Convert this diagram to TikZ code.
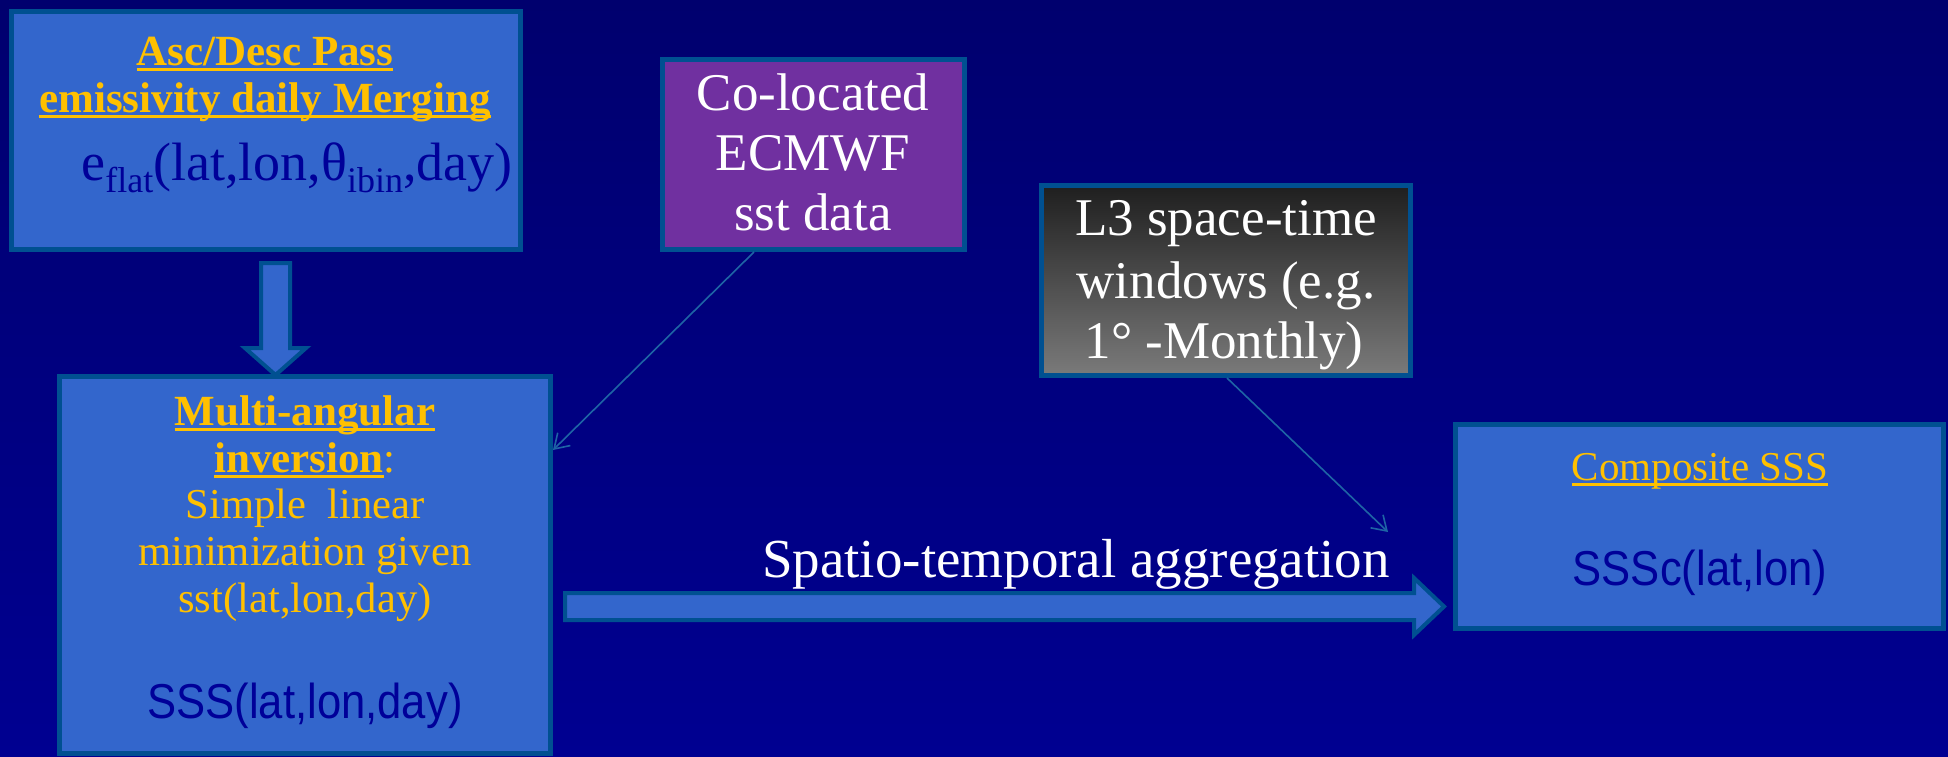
\documentclass[tikz,border=0pt]{standalone}
\usepackage{fontspec}
\setmainfont{Liberation Serif}
\newfontfamily\narrowsans[FakeStretch=0.89]{Liberation Sans}
\usetikzlibrary{arrows.meta}
\definecolor{navytop}{RGB}{0,0,110}
\definecolor{navybot}{RGB}{0,0,145}
\definecolor{boxfill}{RGB}{51,102,204}
\definecolor{boxline}{RGB}{0,80,145}
\definecolor{ecmwf}{RGB}{112,48,160}
\definecolor{gold}{RGB}{255,192,0}
\definecolor{deepblue}{RGB}{0,0,153}
\definecolor{thinline}{RGB}{30,100,165}
\newcommand{\undl}[1]{\setbox0\hbox{#1}\rlap{\rule[-2.8pt]{\wd0}{1.1pt}}\box0}
\newcommand{\lowsub}[1]{\raisebox{-6pt}{\fontsize{18}{20}\selectfont #1}}
\tikzset{
  box/.style={draw=boxline, line width=2.5pt, fill=boxfill, inner sep=0pt, outer sep=0pt},
  lbl/.style={anchor=base, inner sep=0pt},
  blockarrow/.style={draw=boxline, line width=2pt, fill=boxfill, line join=miter},
  feed/.style={draw=thinline, line width=0.8pt, -{Straight Barb[length=7pt,width=9pt]}}
}
\begin{document}
\begin{tikzpicture}[x=0.5pt,y=-0.5pt]
\useasboundingbox (0,0) rectangle (1948,756);
\shade[top color=navytop, bottom color=navybot] (0,0) rectangle (1948,756);
% boxes
\node[box, minimum width=254.5pt, minimum height=119pt] (merge) at (265.5,130) {};
\node[box, fill=ecmwf, minimum width=151pt, minimum height=95pt] (ecmwf) at (813.5,154.5) {};
\node[box, top color=black!88, bottom color=black!52, minimum width=184.5pt, minimum height=95pt] (window) at (1226,280.5) {};
\node[box, minimum width=245.5pt, minimum height=188.25pt] (invert) at (305,564.75) {};
\node[box, minimum width=244pt, minimum height=102pt] (compo) at (1699.5,526.5) {};
% texts
\node[lbl, gold, font=\fontsize{21.5}{24}\selectfont\bfseries] (m1) at (265,65) {\undl{Asc/Desc Pass}};
\node[lbl, gold, font=\fontsize{21.5}{24}\selectfont\bfseries] (m2) at (265,112) {\undl{emissivity daily Merging}};
\node[lbl, deepblue, font=\fontsize{27}{30}\selectfont] (m3) at (297,180) {e\lowsub{flat}(lat,lon,θ\lowsub{ibin},day)};
\node[lbl, white, font=\fontsize{26.5}{30}\selectfont] (e1) at (813,110) {Co-located};
\node[lbl, white, font=\fontsize{26.5}{30}\selectfont] (e2) at (813,170) {ECMWF};
\node[lbl, white, font=\fontsize{26.5}{30}\selectfont] (e3) at (813,230) {sst data};
\node[lbl, white, font=\fontsize{26.5}{30}\selectfont] (w1) at (1226,235) {L3 space-time};
\node[lbl, white, font=\fontsize{26.5}{30}\selectfont] (w2) at (1226,298) {windows (e.g.};
\node[lbl, white, font=\fontsize{26.5}{30}\selectfont] (w3) at (1224,358) {1° -Monthly)};
\node[lbl, gold, font=\fontsize{21.5}{24}\selectfont\bfseries] (i1) at (305,425) {\undl{Multi-angular}};
\node[lbl, gold, font=\fontsize{21.5}{24}\selectfont] (i2) at (305,472) {\undl{\textbf{inversion}}:};
\node[lbl, gold, font=\fontsize{21.3}{24}\selectfont] (i3) at (305,518) {Simple~ linear};
\node[lbl, gold, font=\fontsize{21.3}{24}\selectfont] (i4) at (305,565) {minimization given};
\node[lbl, gold, font=\fontsize{21.3}{24}\selectfont] (i5) at (305,612) {sst(lat,lon,day)};
\node[lbl, deepblue, font=\narrowsans\fontsize{24.5}{28}\selectfont] (i6) at (305,718) {SSS(lat,lon,day)};
\node[lbl, gold, font=\fontsize{20.5}{24}\selectfont] (c1) at (1700,480) {\undl{Composite SSS}};
\node[lbl, deepblue, font=\narrowsans\fontsize{24.5}{28}\selectfont] (c2) at (1700,585) {SSSc(lat,lon)};
\node[lbl, white, font=\fontsize{27.5}{30}\selectfont] (agg) at (1076,577) {Spatio-temporal aggregation};
% block arrows
\draw[blockarrow] (261,263) -- (290,263) -- (290,348) -- (306,348) -- (275.5,375)
  -- (245,348) -- (261,348) -- cycle;
\draw[blockarrow] (565,593) -- (1414,593) -- (1414,578) -- (1444,606.5) -- (1414,635)
  -- (1414,620) -- (565,620) -- cycle;
% thin connectors
\coordinate (f1) at (754,252);
\coordinate (f2) at (553,450);
\coordinate (g1) at (1227,378);
\coordinate (g2) at (1388,532);
\draw[feed] (f1) -- (f2);
\draw[feed] (g1) -- (g2);
\end{tikzpicture}
\end{document}
